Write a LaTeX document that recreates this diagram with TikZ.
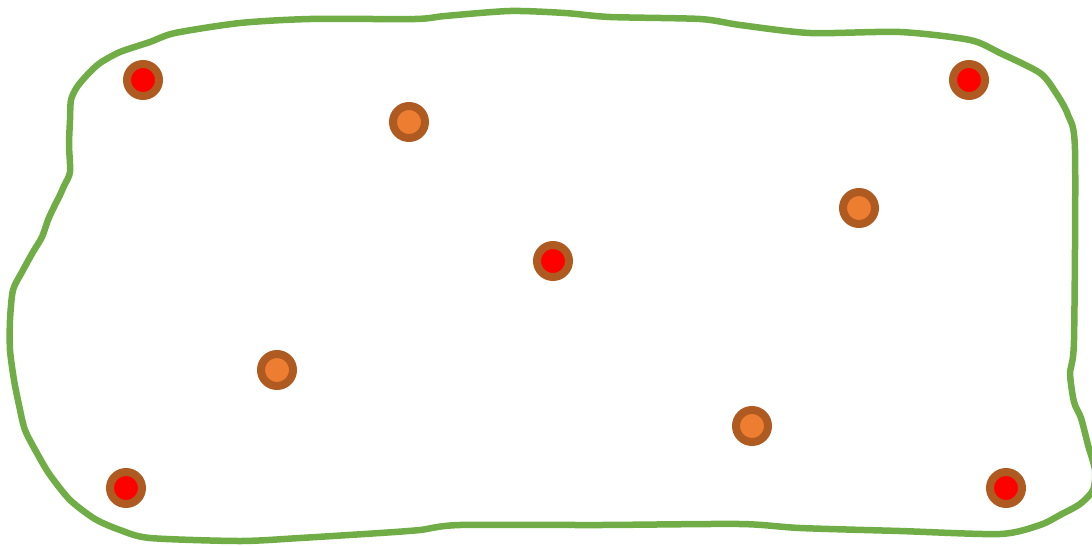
\documentclass[tikz,border=0pt]{standalone}
\usepackage{tikz}
\definecolor{ringbrown}{HTML}{AE5A21}
\definecolor{dotorange}{HTML}{ED7D31}
\definecolor{zonegreen}{HTML}{70AD47}
\tikzstyle{beacon} = [circle, minimum size=0.64cm, inner sep=0, draw=ringbrown, line width=0.16cm, fill=red]
\tikzstyle{sensor} = [circle, minimum size=0.64cm, inner sep=0, draw=ringbrown, line width=0.16cm, fill=dotorange]
\tikzstyle{zone} = [draw=zonegreen, line width=0.13cm, line join=round, line cap=round]

\begin{document}
\begin{tikzpicture}[x=0.02cm, y=-0.02cm]
  \clip (0,0) rectangle (1092,545);
  % boundary
  \draw [zone] plot [smooth cycle, tension=0.45] coordinates {
    (88,74) (100,63) (120,52) (150,42) (175,33) (240,23) (310,19) (415,19)
    (445,16) (510,11) (565,13) (610,17) (700,19) (740,25) (810,33) (900,32)
    (970,40) (1000,53) (1040,73) (1056,93) (1068,115) (1075,150) (1074,340)
    (1070,372) (1074,402) (1081,418) (1088,445) (1095,470) (1093,490)
    (1080,504) (1060,515) (1040,525) (1000,534) (900,531) (800,528) (740,524)
    (600,525) (460,525) (420,530) (380,533) (300,538) (240,541) (150,538)
    (120,530) (95,519) (70,500) (50,475) (38,455) (25,430) (19,405) (14,380)
    (10,350) (10,320) (13,290) (22,272) (33,252) (42,237) (48,220) (54,207)
    (60,195) (64,186) (70,172) (69,145) (70,120) (71,100) (77,87)};
  % points
  \node (b1)[beacon] at (143,80) {};
  \node (b2)[beacon] at (969,80) {};
  \node (b3)[beacon] at (553,261) {};
  \node (b4)[beacon] at (126,488) {};
  \node (b5)[beacon] at (1006,488) {};
  \node (s1)[sensor] at (409,122) {};
  \node (s2)[sensor] at (859,208) {};
  \node (s3)[sensor] at (277,370) {};
  \node (s4)[sensor] at (752,426) {};
\end{tikzpicture}
\end{document}
